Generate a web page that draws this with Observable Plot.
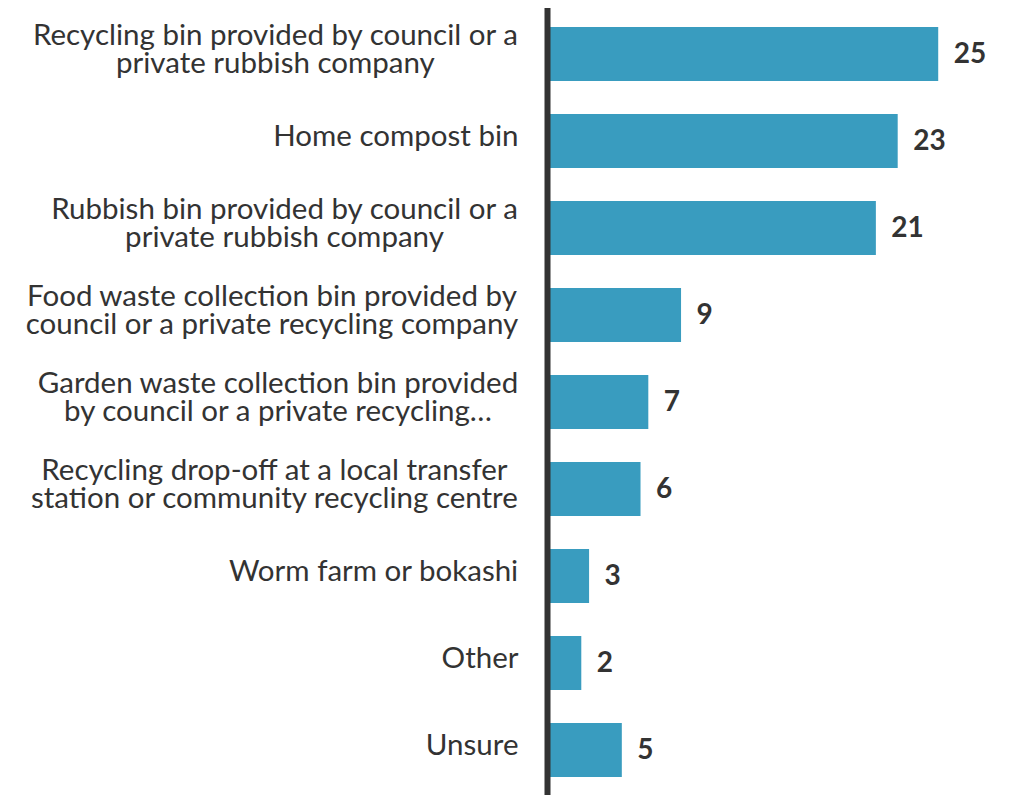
<!DOCTYPE html>
<html><head><meta charset="utf-8">
<script src="https://cdn.jsdelivr.net/npm/d3@7"></script>
<script src="https://cdn.jsdelivr.net/npm/@observablehq/plot@0.6"></script>
<style>body{margin:0;background:#fff}</style>
</head><body><div id="chart"></div>
<script>
const categories = [
  "Recycling bin provided by council or a\nprivate rubbish company",
  "Home compost bin",
  "Rubbish bin provided by council or a\nprivate rubbish company",
  "Food waste collection bin provided by\ncouncil or a private recycling company",
  "Garden waste collection bin provided\nby council or a private recycling…",
  "Recycling drop-off at a local transfer\nstation or community recycling centre",
  "Worm farm or bokashi",
  "Other",
  "Unsure"
];
const values = [25.1, 22.5, 21.1, 8.6, 6.5, 6.0, 2.7, 2.2, 4.8];
const valueLabels = ["25", "23", "21", "9", "7", "6", "3", "2", "5"];

const catFont = 29.5, catFamily = "Lato";
const ctx = document.createElement("canvas").getContext("2d");
ctx.font = `${catFont}px ${catFamily}`;
const data = categories.map((c, i) => {
  const w = Math.max(...c.split("\n").map(l => ctx.measureText(l).width));
  return {cat: c, value: values[i], label: valueLabels[i], halfW: w / 2};
});

const chart = Plot.plot({
  width: 1010,
  height: 795,
  marginLeft: 547,
  marginRight: 11,
  marginTop: 9,
  marginBottom: 0,
  style: {fontFamily: catFamily, background: "#fff"},
  x: {domain: [0, 29], axis: null},
  y: {domain: categories, axis: null, paddingInner: 0.38, paddingOuter: 0.19},
  marks: [
    Plot.barX(data, {x: "value", y: "cat", fill: "#399cbf"}),
    Plot.ruleX([0], {stroke: "#333", strokeWidth: 6, insetTop: -1}),
    Plot.text(data, {
      x: 0, y: "cat", text: "cat", textAnchor: "middle", dy: -4,
      fontSize: catFont, fill: "#333", lineHeight: 0.95
    }),
    Plot.text(data, {
      x: "value", y: "cat", text: "label", textAnchor: "start", dx: 15,
      fontSize: 28, fontWeight: "bold", fill: "#333"
    })
  ]
});
// shift category labels so each block's right edge sits 29px left of the axis
const textGroups = chart.querySelectorAll("g[aria-label='text']");
const catTexts = textGroups[0].querySelectorAll("text");
catTexts.forEach((t, i) => {
  const tr = t.getAttribute("transform") || "";
  t.setAttribute("transform", tr + ` translate(${-29 - data[i].halfW},0)`);
});
document.getElementById("chart").appendChild(chart);
</script>
</body></html>
